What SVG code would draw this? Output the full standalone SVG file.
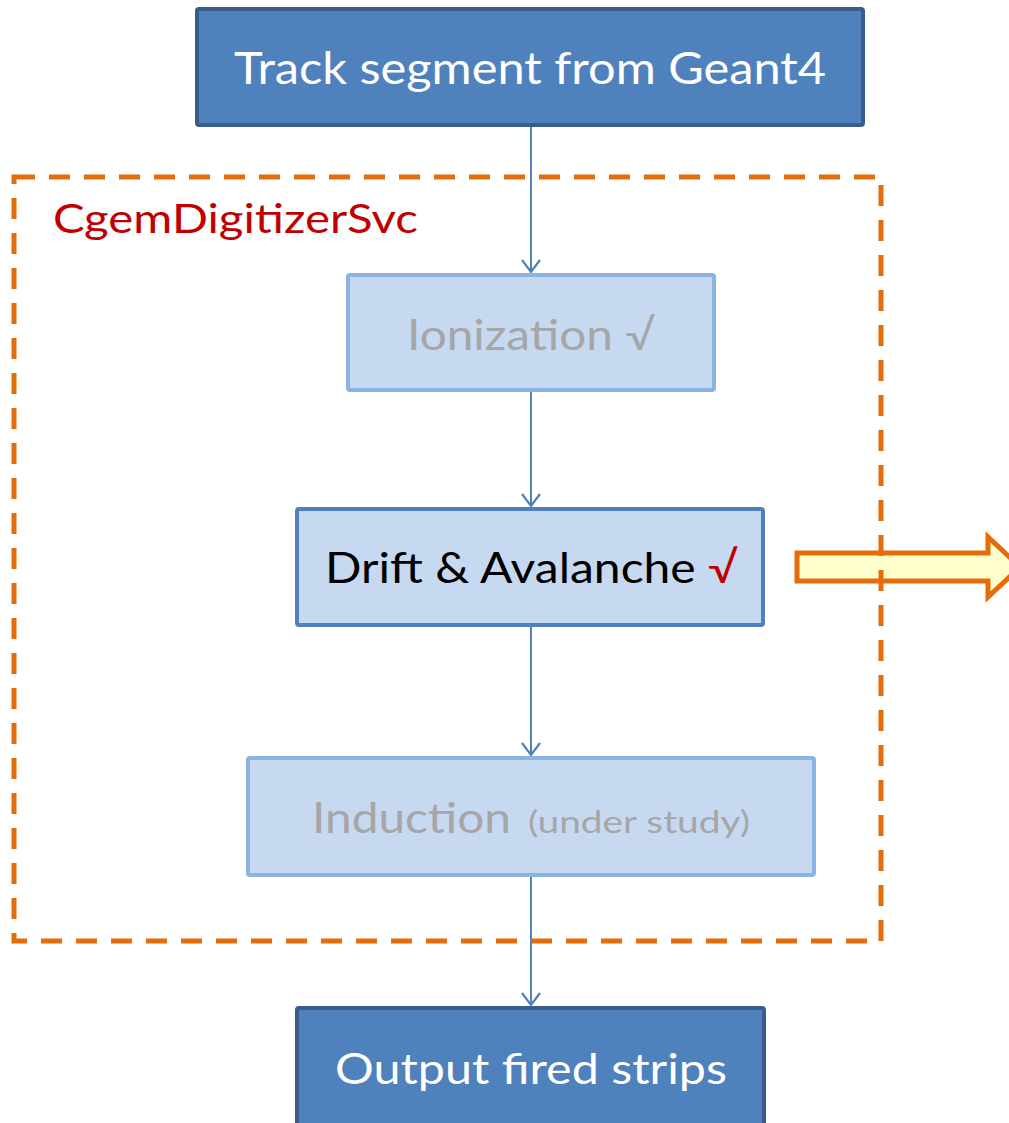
<svg xmlns="http://www.w3.org/2000/svg" width="1009" height="1123" viewBox="0 0 1009 1123">
  <style>
    .txt { font-family: Lato, "Open Sans", "Liberation Sans", sans-serif; }
    .dark { fill: #4F81BD; stroke: #385D8A; stroke-width: 4; }
    .light { fill: #C6D9F1; stroke: #8DB3E2; stroke-width: 4; }
    .mid { fill: #C6D9F1; stroke: #4F81BD; stroke-width: 4; }
    .white { fill: #FFFFFF; }
    .grey { fill: #A6A6A6; }
    .link { stroke: #4F81BD; stroke-width: 2; fill: none; }
  </style>
  <defs>
    <marker id="vhead" markerUnits="userSpaceOnUse" markerWidth="20" markerHeight="24" viewBox="-16 -12 20 24" refX="0" refY="0" orient="auto" overflow="visible">
      <path d="M-12,-9 L0,0 L-12,9" fill="none" stroke="#4F81BD" stroke-width="2.2"/>
    </marker>
  </defs>
  <rect width="1009" height="1123" fill="#FFFFFF"/>

  <!-- block arrow to the right of the drift stage -->
  <g id="outArrow">
    <path d="M797,553 L988,553 L988,537 L1020,567 L988,597 L988,581 L797,581 Z" fill="#FFFFCC" stroke="#E46C0A" stroke-width="5" stroke-linejoin="miter"/>
  </g>

  <!-- connectors -->
  <g id="connectors">
    <line class="link" x1="531" y1="127" x2="531" y2="272" marker-end="url(#vhead)"/>
    <line class="link" x1="531" y1="392" x2="531" y2="506" marker-end="url(#vhead)"/>
    <line class="link" x1="531" y1="627" x2="531" y2="755" marker-end="url(#vhead)"/>
    <line class="link" x1="531" y1="877" x2="531" y2="1005" marker-end="url(#vhead)"/>
  </g>

  <g id="source">
    <rect class="dark" x="197" y="9" width="666" height="116" rx="2"/>
    <text class="txt white" x="234" y="84" font-size="44" textLength="592" lengthAdjust="spacingAndGlyphs">Track segment from Geant4</text>
  </g>

  <g id="ionization">
    <rect class="light" x="348" y="275" width="366" height="115" rx="2"/>
    <text class="txt grey" x="407" y="350" font-size="42" textLength="248" lengthAdjust="spacingAndGlyphs">Ionization √</text>
  </g>

  <g id="drift">
    <rect class="mid" x="297" y="509" width="466" height="116" rx="2"/>
    <text class="txt" x="325" y="583" font-size="43" fill="#000000" textLength="413" lengthAdjust="spacingAndGlyphs">Drift &amp; Avalanche <tspan fill="#C00000">√</tspan></text>
  </g>

  <g id="induction">
    <rect class="light" x="248" y="758" width="566" height="117" rx="2"/>
    <text class="txt grey" x="312" y="833" font-size="43" textLength="199" lengthAdjust="spacingAndGlyphs">Induction</text>
    <text class="txt grey" x="528" y="833" font-size="30" textLength="222" lengthAdjust="spacingAndGlyphs">(under study)</text>
  </g>

  <g id="output">
    <rect class="dark" x="297" y="1008" width="467" height="130" rx="2"/>
    <text class="txt white" x="335" y="1084" font-size="43" textLength="392" lengthAdjust="spacingAndGlyphs">Output fired strips</text>
  </g>

  <!-- service boundary, drawn over the block arrow -->
  <g id="digitizerSvc">
    <rect x="14" y="177" width="867" height="764" fill="none" stroke="#E46C0A" stroke-width="5" stroke-dasharray="21 14"/>
    <text class="txt" x="53" y="233" font-size="41" fill="#C00000" textLength="365" lengthAdjust="spacingAndGlyphs">CgemDigitizerSvc</text>
  </g>
</svg>
